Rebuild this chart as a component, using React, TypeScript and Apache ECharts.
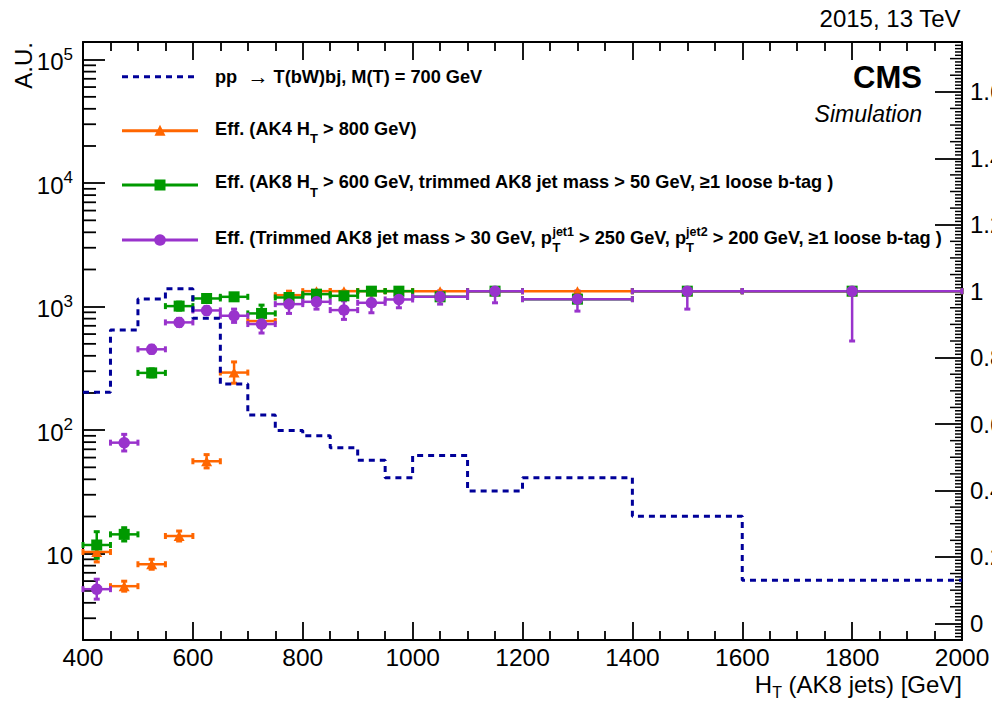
import React, { useEffect, useRef } from 'react';
import * as echarts from 'echarts';

// ---------------- data ----------------
const binEdges = [400, 450, 500, 550, 600, 650, 700, 750, 800, 850, 900, 950, 1000, 1100, 1200, 1400, 1600, 2000];
// signal histogram (A.U., left log axis)
const signalHist = [203, 648, 1154, 1399, 805, 237, 133, 99.5, 90, 72, 57, 41.2, 62.4, 32.2, 41.2, 20.1, 6.1];
// efficiencies (right axis)
const effAK4 = [0.215, 0.112, 0.178, 0.263, 0.488, 0.755, 0.91, 0.988, 1.0, 1.0, 1.0, 1.0, 1.0, 1.0, 1.0, 1.0, 1.0];
const errAK4 = [0.03, 0.015, 0.015, 0.015, 0.02, 0.032, 0.02, 0.02, 0.015, 0.01, 0.01, 0.01, 0.01, 0.01, 0.01, 0.01, 0.01];
const effAK8 = [0.236, 0.268, 0.754, 0.955, 0.978, 0.983, 0.933, 0.981, 0.991, 0.986, 1.0, 1.0, 0.983, 1.0, 0.976, 1.0, 1.0];
const errAK8 = [0.04, 0.02, 0.012, 0.012, 0.01, 0.01, 0.025, 0.012, 0.01, 0.01, 0.006, 0.006, 0.01, 0.006, 0.01, 0.006, 0.006];
const effTrim = [0.103, 0.544, 0.825, 0.906, 0.942, 0.926, 0.901, 0.961, 0.968, 0.943, 0.965, 0.975, 0.983, 1.0, 0.976, 1.0, 1.0];
const errTrim = [0.03, 0.025, 0.012, 0.012, 0.012, 0.02, 0.027, 0.028, 0.022, 0.028, 0.03, 0.025, 0.022, 0.035, 0.036, 0.054, 0.15];
// axis tick labels
const rightTickValues = [0, 0.2, 0.4, 0.6, 0.8, 1, 1.2, 1.4, 1.6];

// ---------------- styling ----------------
const FONT = '"Liberation Sans", Arial, Helvetica, sans-serif';
const BLACK = '#000000';
const C_SIG = '#000099';
const C_AK4 = '#ff6600';
const C_AK8 = '#009900';
const C_TRIM = '#9933cc';

type Seg = { t: string; size: number; bold?: boolean; italic?: boolean; dy?: number; noAdvance?: boolean };

export default function App() {
  const ref = useRef<HTMLDivElement>(null);

  useEffect(() => {
    const chart = echarts.init(ref.current!, null, { renderer: 'svg' });
    const ctx = document.createElement('canvas').getContext('2d')!;
    const fontStr = (s: Seg) => `${s.italic ? 'italic ' : ''}${s.bold ? 'bold ' : ''}${s.size}px ${FONT}`;
    const measure = (s: Seg) => {
      ctx.font = fontStr(s);
      return ctx.measureText(s.t).width;
    };
    const richLine = (segs: Seg[], x: number, baseline: number, align: 'left' | 'right', color = BLACK) => {
      const widths = segs.map(measure);
      const total = segs.reduce((a, s, i) => a + (s.noAdvance ? 0 : widths[i]), 0);
      let cx = align === 'right' ? x - total : x;
      const els: any[] = [];
      segs.forEach((s, i) => {
        els.push({
          type: 'text',
          x: cx,
          y: baseline + (s.dy || 0) - 0.35 * s.size,
          silent: true,
          style: {
            text: s.t,
            fill: color,
            fontSize: s.size,
            fontFamily: FONT,
            fontWeight: s.bold ? 'bold' : 'normal',
            fontStyle: s.italic ? 'italic' : 'normal',
            align: 'left',
            verticalAlign: 'middle',
          },
        });
        if (!s.noAdvance) cx += widths[i];
      });
      return els;
    };

    const centers = binEdges.slice(0, -1).map((e, i) => (e + binEdges[i + 1]) / 2);
    const xMin = binEdges[0];
    const xMax = binEdges[binEdges.length - 1];

    const histData = signalHist.map((v, i) => [binEdges[i], v]);
    histData.push([xMax, signalHist[signalHist.length - 1]]);

    const errSeries = (eff: number[], err: number[], color: string, name: string) => ({
      type: 'custom',
      name,
      xAxisIndex: 0,
      yAxisIndex: 1,
      silent: true,
      data: eff.map((v, i) => [binEdges[i], binEdges[i + 1], centers[i], v, err[i]]),
      encode: { x: [0, 1, 2], y: [3] },
      renderItem: (_p: any, api: any) => {
        const lo = api.value(0), hi = api.value(1), xc = api.value(2), v = api.value(3), e = api.value(4);
        const pl = api.coord([lo, v]);
        const pr = api.coord([hi, v]);
        const pt = api.coord([xc, Math.min(1, v + e)]);
        const pb = api.coord([xc, v - e]);
        const st = { stroke: color, lineWidth: 2.5 };
        return {
          type: 'group',
          children: [
            { type: 'line', shape: { x1: pl[0], y1: pl[1], x2: pr[0], y2: pr[1] }, style: st },
            { type: 'line', shape: { x1: pt[0], y1: pt[1], x2: pb[0], y2: pb[1] }, style: st },
            { type: 'rect', shape: { x: pl[0] - 1.5, y: pl[1] - 3, width: 3, height: 6 }, style: { fill: color } },
            { type: 'rect', shape: { x: pr[0] - 1.5, y: pr[1] - 3, width: 3, height: 6 }, style: { fill: color } },
            { type: 'rect', shape: { x: pt[0] - 3, y: pt[1] - 1.5, width: 6, height: 3 }, style: { fill: color } },
            { type: 'rect', shape: { x: pb[0] - 3, y: pb[1] - 1.5, width: 6, height: 3 }, style: { fill: color } },
          ],
        };
      },
    });
    const markerSeries = (eff: number[], color: string, name: string, symbol: string, size: any) => ({
      type: 'scatter',
      name,
      xAxisIndex: 0,
      yAxisIndex: 1,
      silent: true,
      symbol,
      symbolSize: size,
      itemStyle: { color, opacity: 1 },
      data: eff.map((v, i) => [centers[i], v]),
    });

    // tick decorations (minor ticks of log axis and right axis)
    const logMinor: number[][] = [];
    for (let k = 0; k <= 4; k++) {
      for (let m = 2; m <= 9; m++) {
        const v = m * Math.pow(10, k);
        if (v > 2 && v < 1.39e5) logMinor.push([xMin, v]);
      }
    }
    const rightMinor: number[][] = [];
    for (let k = -4; k <= 174; k++) {
      if (k % 20 === 0) continue;
      rightMinor.push([xMax, k / 100, k % 5 === 0 ? 12 : 7]);
    }

    const tickStyle = { color: BLACK, width: 1.8 };

    // legend
    const legendX0 = 122, legendX1 = 198, legendMid = 160, textX = 215;
    const rowLine = [76.7, 130.7, 185, 240];
    const rowBase = [83.5, 135, 188.3, 244];
    const LS = 18.2;
    const sub: Seg = { t: 'T', size: 13, bold: true, dy: 8.5 };
    const legendGraphics: any[] = [
      { type: 'line', silent: true, shape: { x1: legendX0, y1: rowLine[0], x2: legendX1, y2: rowLine[0] }, style: { stroke: C_SIG, lineWidth: 3, lineDash: [6, 5] } },
      { type: 'line', silent: true, shape: { x1: legendX0, y1: rowLine[1], x2: legendX1, y2: rowLine[1] }, style: { stroke: C_AK4, lineWidth: 3 } },
      { type: 'polygon', silent: true, shape: { points: [[legendMid - 5.5, rowLine[1] + 5], [legendMid + 5.5, rowLine[1] + 5], [legendMid, rowLine[1] - 6]] }, style: { fill: C_AK4 } },
      { type: 'line', silent: true, shape: { x1: legendX0, y1: rowLine[2], x2: legendX1, y2: rowLine[2] }, style: { stroke: C_AK8, lineWidth: 3 } },
      { type: 'rect', silent: true, shape: { x: legendMid - 5.5, y: rowLine[2] - 5.5, width: 11, height: 11 }, style: { fill: C_AK8 } },
      { type: 'line', silent: true, shape: { x1: legendX0, y1: rowLine[3], x2: legendX1, y2: rowLine[3] }, style: { stroke: C_TRIM, lineWidth: 3 } },
      { type: 'circle', silent: true, shape: { cx: legendMid, cy: rowLine[3], r: 5.8 }, style: { fill: C_TRIM } },
      ...richLine([
        { t: 'pp  ', size: LS, bold: true },
        { t: '\u2192', size: LS + 3 },
        { t: ' T(bW)bj, M(T) = 700 GeV', size: LS, bold: true },
      ], textX, rowBase[0], 'left'),
      ...richLine([
        { t: 'Eff. (AK4 H', size: LS, bold: true },
        sub,
        { t: ' > 800 GeV)', size: LS, bold: true },
      ], textX, rowBase[1], 'left'),
      ...richLine([
        { t: 'Eff. (AK8 H', size: LS, bold: true },
        sub,
        { t: ' > 600 GeV, trimmed AK8 jet mass > 50 GeV, \u22651 loose b-tag )', size: LS, bold: true },
      ], textX, rowBase[2], 'left'),
      ...richLine([
        { t: 'Eff. (Trimmed AK8 jet mass > 30 GeV, p', size: LS, bold: true },
        { ...sub, noAdvance: true },
        { t: 'jet1', size: 12.5, bold: true, dy: -7.5 },
        { t: ' > 250 GeV, p', size: LS, bold: true },
        { ...sub, noAdvance: true },
        { t: 'jet2', size: 12.5, bold: true, dy: -7.5 },
        { t: ' > 200 GeV, \u22651 loose b-tag )', size: LS, bold: true },
      ], textX, rowBase[3], 'left'),
    ];

    const otherGraphics: any[] = [
      { type: 'text', silent: true, x: 23, y: 42, rotation: Math.PI / 2, style: { text: 'A.U.', fill: BLACK, fontSize: 24, fontFamily: FONT, align: 'right', verticalAlign: 'middle' } },
      ...richLine([{ t: '2015, 13 TeV', size: 24 }], 961, 26.7, 'right'),
      ...richLine([{ t: 'CMS', size: 31, bold: true }], 922, 88, 'right'),
      ...richLine([{ t: 'Simulation', size: 23, italic: true }], 922, 121.7, 'right'),
      ...richLine([
        { t: 'H', size: 24 },
        { t: 'T', size: 16, dy: 5 },
        { t: ' (AK8 jets) [GeV]', size: 24 },
      ], 962, 693, 'right'),
    ];

    const xAxisCommon = {
      type: 'value',
      min: xMin,
      max: xMax,
      interval: 200,
      axisLine: { show: true, onZero: false, lineStyle: { color: BLACK, width: 2 } },
      axisTick: { show: true, inside: true, length: 18, lineStyle: tickStyle },
      minorTick: { show: true, splitNumber: 4, length: 9, lineStyle: tickStyle },
      splitLine: { show: false },
      minorSplitLine: { show: false },
    };

    const option: any = {
      animation: false,
      backgroundColor: '#ffffff',
      textStyle: { fontFamily: FONT },
      grid: { left: 83, right: 30, top: 42, bottom: 64, containLabel: false, outerBoundsMode: 'none' },
      xAxis: [
        {
          ...xAxisCommon,
          position: 'bottom',
          axisLabel: { color: BLACK, fontSize: 24.5, fontFamily: FONT, margin: 5, formatter: (v: number) => String(v) },
        },
        {
          ...xAxisCommon,
          position: 'top',
          axisLabel: { show: false },
        },
      ],
      yAxis: [
        {
          type: 'log',
          logBase: 10,
          min: 2,
          max: 1.39e5,
          position: 'left',
          axisLine: { show: true, onZero: false, lineStyle: { color: BLACK, width: 2 } },
          axisTick: { show: true, inside: true, length: 22, lineStyle: tickStyle },
          splitLine: { show: false },
          axisLabel: {
            showMinLabel: false,
            showMaxLabel: false,
            margin: 10,
            formatter: (v: number) => {
              const e = Math.round(Math.log10(v));
              if (Math.abs(v - Math.pow(10, e)) > 1e-6 * v) return '';
              if (e === 1) return '{n|10}';
              return `{n|10}{s|${e}}`;
            },
            rich: {
              n: { fontSize: 24, fontFamily: FONT, color: BLACK, verticalAlign: 'bottom', lineHeight: 28 },
              s: { fontSize: 17, fontFamily: FONT, color: BLACK, verticalAlign: 'top', lineHeight: 18 },
            },
          },
        },
        {
          type: 'value',
          min: -0.05,
          max: 1.75,
          position: 'right',
          axisLine: { show: true, onZero: false, lineStyle: { color: BLACK, width: 2 } },
          axisTick: { show: true, inside: true, length: 27, lineStyle: tickStyle, customValues: rightTickValues },
          splitLine: { show: false },
          axisLabel: {
            customValues: rightTickValues,
            color: BLACK,
            fontSize: 24,
            fontFamily: FONT,
            margin: 8,
            formatter: (v: number) => String(+Number(v).toFixed(2)),
          },
        },
      ],
      series: [
        {
          type: 'custom',
          name: 'logMinorTicks',
          silent: true,
          xAxisIndex: 0,
          yAxisIndex: 0,
          data: logMinor,
          renderItem: (_p: any, api: any) => {
            const p = api.coord([api.value(0), api.value(1)]);
            return { type: 'line', shape: { x1: p[0], y1: p[1], x2: p[0] + 13, y2: p[1] }, style: { stroke: BLACK, lineWidth: 1.8 } };
          },
        },
        {
          type: 'custom',
          name: 'rightMinorTicks',
          silent: true,
          xAxisIndex: 0,
          yAxisIndex: 1,
          data: rightMinor,
          renderItem: (_p: any, api: any) => {
            const p = api.coord([api.value(0), api.value(1)]);
            const len = api.value(2);
            return { type: 'line', shape: { x1: p[0] - len, y1: p[1], x2: p[0], y2: p[1] }, style: { stroke: BLACK, lineWidth: 1.5 } };
          },
        },
        {
          type: 'line',
          name: 'pp \u2192 T(bW)bj, M(T) = 700 GeV',
          xAxisIndex: 0,
          yAxisIndex: 0,
          step: 'end',
          showSymbol: false,
          symbol: 'none',
          silent: true,
          lineStyle: { color: C_SIG, width: 3, type: [6, 5] },
          data: histData,
        },
        errSeries(effAK4, errAK4, C_AK4, 'Eff. (AK4 HT > 800 GeV)'),
        markerSeries(effAK4, C_AK4, 'Eff. (AK4 HT > 800 GeV)', 'triangle', [11, 10]),
        errSeries(effAK8, errAK8, C_AK8, 'Eff. (AK8 HT > 600 GeV)'),
        markerSeries(effAK8, C_AK8, 'Eff. (AK8 HT > 600 GeV)', 'rect', 11),
        errSeries(effTrim, errTrim, C_TRIM, 'Eff. (Trimmed)'),
        markerSeries(effTrim, C_TRIM, 'Eff. (Trimmed)', 'circle', 11.5),
      ],
      graphic: [...legendGraphics, ...otherGraphics],
    };

    chart.setOption(option);
    return () => chart.dispose();
  }, []);

  return (
    <div
      ref={ref}
      style={{ position: 'absolute', left: 0, top: 0, width: 992, height: 704, background: '#ffffff' }}
    />
  );
}
